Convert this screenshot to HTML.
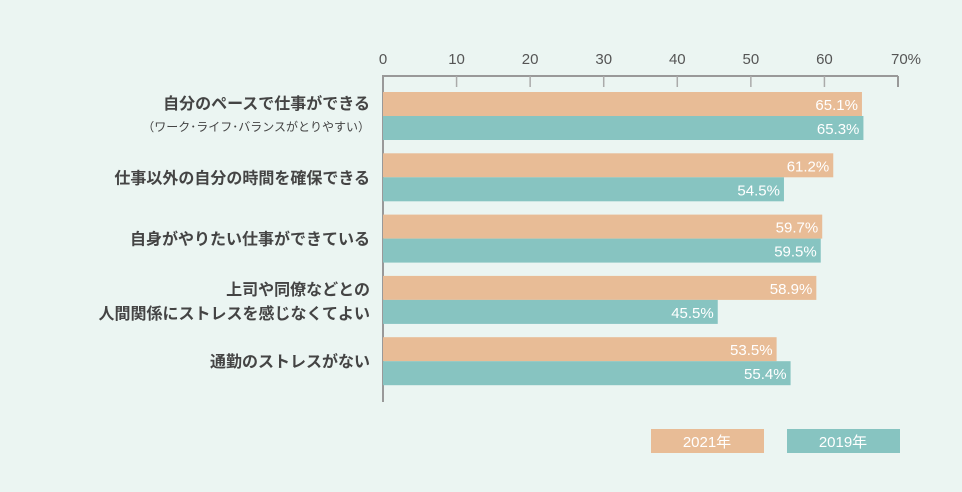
<!DOCTYPE html>
<html><head><meta charset="utf-8">
<style>
html,body{margin:0;padding:0;background:#ebf5f2;}
svg{display:block;font-family:"Liberation Sans","Noto Sans CJK JP",sans-serif;}
</style></head>
<body>
<svg id="chart" width="962" height="492" viewBox="0 0 962 492" xmlns="http://www.w3.org/2000/svg">
<rect width="962" height="492" fill="#ebf5f2"/>
<g id="axis"></g>
<g id="bars"></g>
<g id="labels"></g>
<g>
<rect x="651" y="429" width="113" height="24" fill="#e8bc96"/>
<text x="707" y="447" fill="#fff" font-size="15" text-anchor="middle">2021年</text>
<rect x="787" y="429" width="113" height="24" fill="#87c4c1"/>
<text x="843" y="447" fill="#fff" font-size="15" text-anchor="middle">2019年</text>
</g>
</svg>
<script>
const categories=[["自分のペースで仕事ができる","（ワーク･ライフ･バランスがとりやすい）"],["仕事以外の自分の時間を確保できる"],["自身がやりたい仕事ができている"],["上司や同僚などとの","人間関係にストレスを感じなくてよい"],["通勤のストレスがない"]];
const values2021=[65.1,61.2,59.7,58.9,53.5];
const values2019=[65.3,54.5,59.5,45.5,55.4];
const ticks=[0,10,20,30,40,50,60,70];
const NS="http://www.w3.org/2000/svg";
const x0=383,x70=898;
const xs=v=>x0+(x70-x0)*v/70;
const groupTop=i=>92+i*61.3;
function mk(tag,attrs,parent){const e=document.createElementNS(NS,tag);for(const k in attrs)e.setAttribute(k,attrs[k]);parent.appendChild(e);return e;}
const ax=document.getElementById('axis'),bars=document.getElementById('bars'),lab=document.getElementById('labels');
let l=mk('line',{x1:x0,y1:76,x2:x70,y2:76,stroke:'#999','stroke-width':2},ax);


l=mk('line',{x1:x0,y1:75,x2:x0,y2:402,stroke:'#999','stroke-width':2},ax);


ticks.forEach((t,i)=>{
  const x=xs(t);
  if(i>0&&i<ticks.length-1){const tk=mk('line',{x1:x,y1:76,x2:x,y2:87,stroke:'#aaa','stroke-width':1.5},ax);
  
  }
  if(i==ticks.length-1){const tk=mk('line',{x1:x,y1:76,x2:x,y2:87,stroke:'#999','stroke-width':2},ax);
  
  }
  const tx=mk('text',{x:x+(i==ticks.length-1?8:0),y:64,'font-size':15,fill:'#555','text-anchor':'middle'},ax);
  tx.textContent=t+(i==ticks.length-1?'%':'');
  
  
});
categories.forEach((c,i)=>{
  const y=groupTop(i);
  [[values2021[i],'#e8bc96',0,'bar-2021'],[values2019[i],'#87c4c1',24,'bar-2019']].forEach(([v,col,off,nm])=>{
    const r=mk('rect',{x:x0,y:y+off,width:xs(v)-x0,height:24,fill:col},bars);
    
    
    const t=mk('text',{x:xs(v)-4,y:y+off+18,'font-size':15,fill:'#fff','text-anchor':'end'},bars);
    t.textContent=v.toFixed(1)+'%';
    
    
  });
  const cy=y+24;
  if(c.length==2&&i==0){
    const a=mk('text',{x:370,y:cy-7,'font-size':16,'font-weight':'bold',fill:'#444','text-anchor':'end'},lab);
    a.textContent=c[0];
    
    
    const b=mk('text',{x:370,y:cy+15,'font-size':12,fill:'#444','text-anchor':'end'},lab);
    b.textContent=c[1];
    
    
  } else if(c.length==2){
    c.forEach((s,j)=>{const a=mk('text',{x:370,y:cy-5+j*24,'font-size':16,'font-weight':'bold',fill:'#444','text-anchor':'end'},lab);
    a.textContent=s;
    
    });
  } else {
    const a=mk('text',{x:370,y:cy+6,'font-size':16,'font-weight':'bold',fill:'#444','text-anchor':'end'},lab);
    a.textContent=c[0];
    
    
  }
});
</script>
</body></html>
